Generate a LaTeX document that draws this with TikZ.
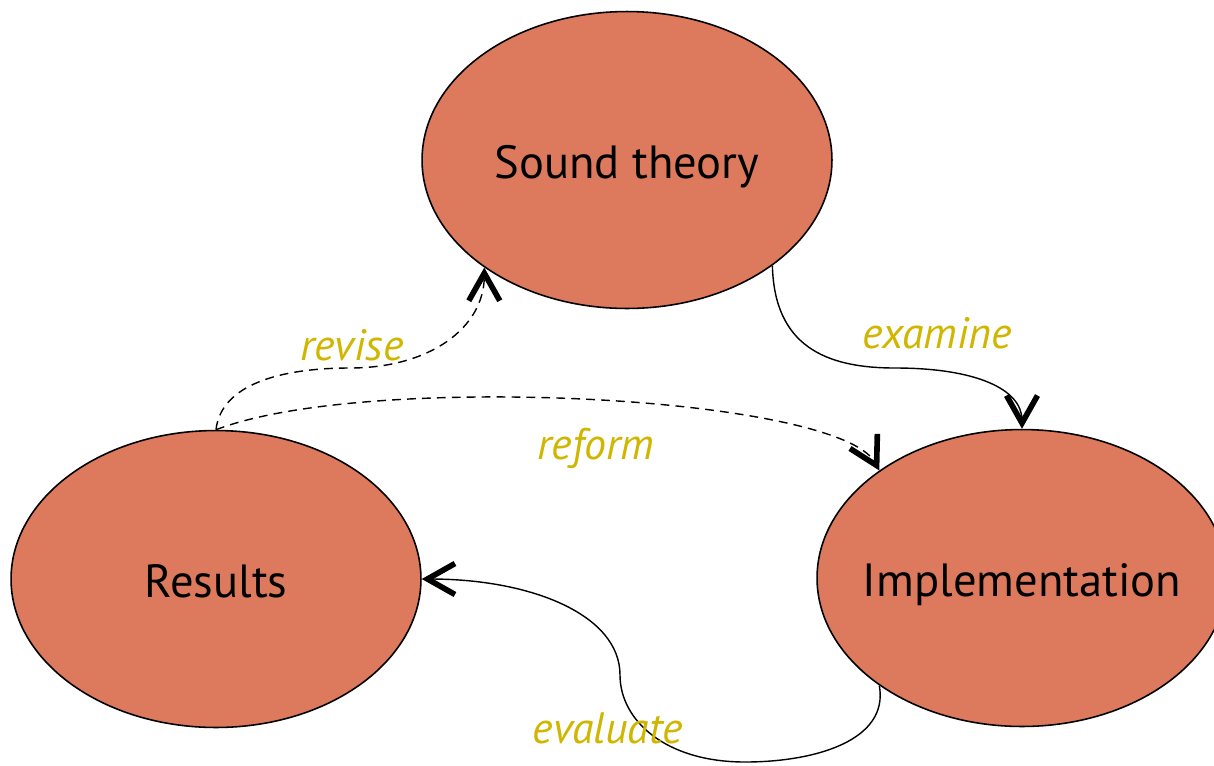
\documentclass[tikz,border=0pt]{standalone}
\usepackage{fontspec}
\setmainfont{PT Sans}
\usetikzlibrary{shapes.geometric,arrows.meta}
\definecolor{bubble}{RGB}{221,122,93}
\definecolor{verb}{RGB}{208,182,0}
% stage caption: zero-size box, baseline set a little below the centre
\newcommand{\stagetext}[1]{\makebox[0pt]{\smash{\raisebox{-0.36cm}{#1}}}}
\tikzset{
  stage/.style={ellipse, draw=black, line width=0.9pt, fill=bubble,
    minimum width=8.2cm, minimum height=5.94cm, inner sep=0pt,
    font=\fontsize{26.5}{30}\selectfont},
  link/.style={line width=0.8pt,
    -{Straight Barb[length=0.55cm,width=0.62cm,line width=3.2pt]}},
  dashedlink/.style={link, dash pattern=on 5pt off 3.5pt},
  verblabel/.style={text=verb, font=\fontsize{25}{29}\selectfont\itshape}
}
\begin{document}
\begin{tikzpicture}[x=0.02cm,y=-0.02cm]
\useasboundingbox (0,0) rectangle (1214,765);

% the three stages
\node[stage] (st) at (627,160) {\stagetext{Sound theory}};
\node[stage] (res) at (216,579) {\stagetext{Results}};
\node[stage] (impl) at (1022,578) {\stagetext{Implementation}};

% waypoints of the winding connectors
\coordinate (exmid) at (895,368);
\coordinate (evlow) at (745,762);
\coordinate (evturn) at (620,675);
\coordinate (rvmid) at (350,368);

% theory -> implementation
\draw[link] (st.-36) .. controls +(2,80) and +(-70,0) .. (exmid)
  .. controls +(80,0) and +(0,-40) .. (impl.90);

% implementation -> results
\draw[link] (impl.-143) .. controls +(10,55) and +(70,0) .. (evlow)
  .. controls +(-80,0) and +(0,45) .. (evturn)
  .. controls +(0,-60) and +(110,0) .. (res.0);

% results -> theory
\draw[dashedlink] (res.90) .. controls +(5,-45) and +(-70,0) .. (rvmid)
  .. controls +(80,0) and +(0,60) .. (st.-143);

% results -> implementation
\draw[dashedlink] (res.90) .. controls +(150,-58) and +(-40,-75) .. (impl.143);

% connector labels
\node[verblabel] (lexamine) at (937,333) {examine};
\node[verblabel] (lrevise) at (352,345) {revise};
\node[verblabel] (lreform) at (596,448) {reform};
\node[verblabel] (levaluate) at (608,728) {evaluate};
\end{tikzpicture}
\end{document}
